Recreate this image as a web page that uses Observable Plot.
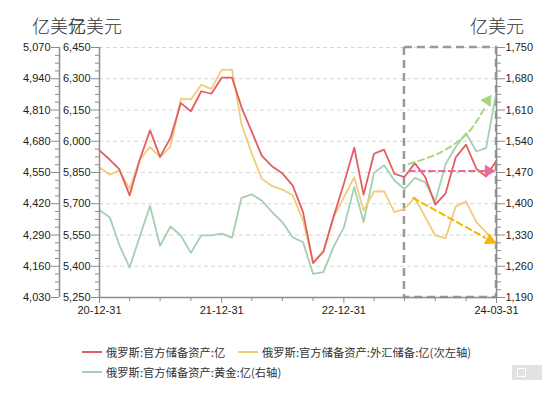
<!DOCTYPE html>
<html><head><meta charset="utf-8">
<script src="https://cdn.jsdelivr.net/npm/d3@7"></script>
<script src="https://cdn.jsdelivr.net/npm/@observablehq/plot@0.6"></script>
<style>
body{margin:0;background:#fff;}
#wrap{position:relative;width:550px;height:394px;overflow:hidden;font-family:"Liberation Sans","Noto Sans CJK SC",sans-serif;}
#head{position:relative;width:550px;height:36px;}
.unit{position:absolute;top:15px;font-size:18px;line-height:20px;color:#333;font-family:"Noto Sans CJK SC",sans-serif;font-weight:300;}
#legend{position:relative;width:550px;height:64px;}
.lg{position:absolute;font-size:11.3px;line-height:14px;color:#333;font-family:"Noto Sans CJK SC",sans-serif;white-space:nowrap;display:flex;align-items:center;}
.sw{display:inline-block;width:20px;height:2.5px;margin-right:4px;}
#wm{position:absolute;left:512px;top:35px;width:30px;height:15px;background:#e2e2e2;}
#wm span{position:absolute;left:5px;top:3px;width:7px;height:7px;border:1px solid #fff;}
</style></head>
<body>
<div id="wrap">
  <div id="head">
    <div class="unit" style="left:32px">亿美元</div>
    <div class="unit" style="left:68px">亿美元</div>
    <div class="unit" style="left:470px">亿美元</div>
  </div>
  <div id="chart"></div>
  <div id="legend">
    <div class="lg" style="left:82px;top:15px"><span class="sw" style="background:#e35d62"></span>俄罗斯:官方储备资产:亿</div>
    <div class="lg" style="left:238px;top:15px"><span class="sw" style="background:#f0cd79"></span>俄罗斯:官方储备资产:外汇储备:亿(次左轴)</div>
    <div class="lg" style="left:82px;top:35px"><span class="sw" style="background:#a5cfb1"></span>俄罗斯:官方储备资产:黄金:亿(右轴)</div>
    <div id="wm"><span></span></div>
  </div>
</div>
<script>
// ---- data ----
const months = [
 "2020-12-31",
 "2021-01-31","2021-02-28","2021-03-31","2021-04-30","2021-05-31","2021-06-30","2021-07-31","2021-08-31","2021-09-30","2021-10-31","2021-11-30","2021-12-31",
 "2022-01-31","2022-02-28","2022-03-31","2022-04-30","2022-05-31","2022-06-30","2022-07-31","2022-08-31","2022-09-30","2022-10-31","2022-11-30","2022-12-31",
 "2023-01-31","2023-02-28","2023-03-31","2023-04-30","2023-05-31","2023-06-30","2023-07-31","2023-08-31","2023-09-30","2023-10-31","2023-11-30","2023-12-31",
 "2024-01-31","2024-02-29","2024-03-31"];
const totalReserves = [5956,5911,5866,5740,5910,6052,5925,6016,6183,6144,6240,6228,6305,6305,6164,6045,5930,5879,5846,5788,5660,5415,5472,5636,5796,5969,5744,5940,5960,5844,5828,5895,5828,5696,5750,5922,5984,5868,5831,5908];
const fxReserves   = [4571,4541,4559,4482,4603,4656,4614,4658,4857,4854,4915,4898,4977,4978,4753,4628,4524,4493,4479,4455,4350,4177,4218,4364,4447,4530,4392,4471,4472,4385,4399,4445,4365,4288,4277,4408,4430,4343,4302,4252];
const goldReserves = [1386,1369,1308,1257,1326,1395,1306,1349,1329,1290,1329,1329,1333,1324,1413,1421,1407,1381,1359,1325,1314,1243,1247,1303,1347,1437,1359,1469,1486,1452,1433,1458,1448,1405,1489,1527,1558,1517,1525,1652];

const seriesNames = ["俄罗斯:官方储备资产:亿","俄罗斯:官方储备资产:外汇储备:亿(次左轴)","俄罗斯:官方储备资产:黄金:亿(右轴)"];

const mainTicks  = [5250,5400,5550,5700,5850,6000,6150,6300,6450];
const outerTicks = [4030,4160,4290,4420,4550,4680,4810,4940,5070];
const rightTicks = [1190,1260,1330,1400,1470,1540,1610,1680,1750];
const xTickDates  = ["2020-12-31","2021-12-31","2022-12-31","2024-03-31"];
const xTickLabels = ["20-12-31","21-12-31","22-12-31","24-03-31"];
const quarterDates = ["2021-03-31","2021-06-30","2021-09-30","2022-03-31","2022-06-30","2022-09-30","2023-03-31","2023-06-30","2023-09-30","2023-12-31"];

// highlight window
const boxStart = "2023-06-30", boxEnd = "2024-03-31";
// trend arrows (annotation), in each series' own units
const goldArrowDates = ["2023-07-13","2023-10-16","2024-01-07","2024-02-22"];
const goldArrowVals  = [1489,1515,1560,1612];
const goldHead = {date:"2024-03-04", v:1631, rotate:35};
const totalArrowDates = ["2023-07-13","2024-02-24"];
const totalArrowVals  = [5857,5857];
const totalHead = {date:"2024-03-07", v:5857, rotate:90};
const fxArrowDates = ["2023-07-26","2024-02-26"];
const fxArrowVals  = [4444,4279];
const fxHead = {date:"2024-03-11", v:4268, rotate:119};

// ---- mapping of secondary axes onto the main y scale ----
const outerToMain = d3.scaleLinear([4030,5070],[5250,6450]);
const rightToMain = d3.scaleLinear([1190,1750],[5250,6450]);
const D = s => new Date(s);
const fmt = d3.format(",");

const redRows = months.map((m,i)=>({date:D(m), v: totalReserves[i]}));
const yelRows = months.map((m,i)=>({date:D(m), v: outerToMain(fxReserves[i])}));
const grnRows = months.map((m,i)=>({date:D(m), v: rightToMain(goldReserves[i])}));

const gArrow = goldArrowDates.map((d,i)=>({date:D(d), v: rightToMain(goldArrowVals[i])}));
const tArrow = totalArrowDates.map((d,i)=>({date:D(d), v: totalArrowVals[i]}));
const fArrow = fxArrowDates.map((d,i)=>({date:D(d), v: outerToMain(fxArrowVals[i])}));
const heads = [
  {date:D(goldHead.date), v: rightToMain(goldHead.v), rotate: goldHead.rotate, c:"#a6d77f"},
  {date:D(totalHead.date), v: totalHead.v, rotate: totalHead.rotate, c:"#ea6a9c"},
  {date:D(fxHead.date), v: outerToMain(fxHead.v), rotate: fxHead.rotate, c:"#f5b700"}
];

const minorOf = ticks => {
  const out=[]; for(let k=0;k<ticks.length-1;k++){const st=(ticks[k+1]-ticks[k])/4; for(let j=1;j<4;j++) out.push(ticks[k]+st*j);} return out;
};
const mainMinor = minorOf(mainTicks);
const outerMinor = minorOf(outerTicks).map(outerToMain);
const rightMinor = minorOf(rightTicks).map(rightToMain);

const x0 = D(months[0]), x1 = D(months[months.length-1]);
const axisGray = "#8c8c8c";
const labelMap = new Map(xTickDates.map((d,i)=>[+D(d), xTickLabels[i]]));

const chart = Plot.plot({
  width: 550, height: 294,
  marginTop: 11, marginBottom: 33, marginLeft: 99, marginRight: 54,
  style: {fontFamily: "Liberation Sans, Arial, sans-serif", fontSize: "11px", background: "#fff"},
  x: {type: "utc", domain: [x0, x1], label: null},
  y: {domain: [5250, 6450], label: null},
  marks: [
    Plot.gridY(mainTicks.slice(1), {stroke: "#d6d6d6", strokeOpacity: 1, strokeDasharray: "4,3"}),
    Plot.rect([{a: D(boxStart), b: D(boxEnd), lo: 5250, hi: 6450}], {x1: "a", x2: "b", y1: "lo", y2: "hi", fill: "none", stroke: "#999", strokeWidth: 2.5, strokeDasharray: "8,5"}),
    Plot.line(grnRows, {x: "date", y: "v", stroke: "#a5cfb1", strokeWidth: 1.8}),
    Plot.line(yelRows, {x: "date", y: "v", stroke: "#f0cd79", strokeWidth: 1.8}),
    Plot.line(redRows, {x: "date", y: "v", stroke: "#e35d62", strokeWidth: 1.8}),
    Plot.line(gArrow, {x: "date", y: "v", curve: "catmull-rom", stroke: "#a6d77f", strokeWidth: 2, strokeDasharray: "6,4"}),
    Plot.line(tArrow, {x: "date", y: "v", stroke: "#ea6a9c", strokeWidth: 2, strokeDasharray: "6,4"}),
    Plot.line(fArrow, {x: "date", y: "v", stroke: "#f5b700", strokeWidth: 2, strokeDasharray: "6,4"}),
    Plot.dot(heads, {x: "date", y: "v", symbol: "triangle", r: 4.6, fill: "c", stroke: null, rotate: "rotate"}),
    // axis lines
    Plot.ruleX([x0], {stroke: axisGray, strokeWidth: 1.5}),
    Plot.ruleX([x0], {dx: -40, stroke: axisGray, strokeWidth: 1.5}),
    Plot.ruleX([x1], {stroke: axisGray, strokeWidth: 1.5}),
    Plot.ruleY([5250], {stroke: axisGray, strokeWidth: 1.5}),
    // inner left axis (total reserves)
    Plot.axisY(mainTicks, {anchor: "left", tickSize: 8, tickPadding: 1, tickFormat: fmt, stroke: axisGray, fill: "#222", label: null}),
    Plot.axisY(mainMinor, {anchor: "left", tickSize: 4, tickFormat: () => "", stroke: axisGray, label: null}),
    // outer left axis (FX reserves)
    Plot.axisY(outerTicks.map(outerToMain), {anchor: "left", dx: -40, tickSize: 8, tickPadding: 1, tickFormat: d => fmt(Math.round(outerToMain.invert(d))), stroke: axisGray, fill: "#222", label: null}),
    Plot.axisY(outerMinor, {anchor: "left", dx: -40, tickSize: 4, tickFormat: () => "", stroke: axisGray, label: null}),
    // right axis (gold)
    Plot.axisY(rightTicks.map(rightToMain), {anchor: "right", tickSize: 8, tickPadding: 1, tickFormat: d => fmt(Math.round(rightToMain.invert(d))), stroke: axisGray, fill: "#222", label: null}),
    Plot.axisY(rightMinor, {anchor: "right", tickSize: 4, tickFormat: () => "", stroke: axisGray, label: null}),
    // x axis
    Plot.axisX(xTickDates.map(D), {anchor: "bottom", tickSize: 6, tickPadding: 3, tickFormat: d => labelMap.get(+d), stroke: axisGray, fill: "#222", label: null}),
    Plot.axisX(quarterDates.map(D), {anchor: "bottom", tickSize: 4, tickFormat: () => "", stroke: axisGray, label: null})
  ]
});
document.getElementById("chart").appendChild(chart);
</script>
</body></html>
